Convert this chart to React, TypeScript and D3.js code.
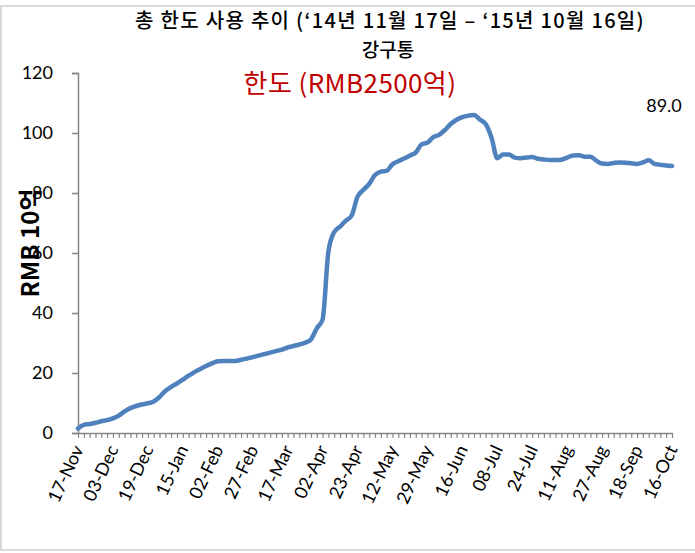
import React, { useEffect, useRef } from 'react';
import * as d3 from 'd3';

// every 12th trading day gets a label
const tickLabels = [
  "17-Nov", "03-Dec", "19-Dec", "15-Jan", "02-Feb", "27-Feb", "17-Mar", "02-Apr", "23-Apr",
  "12-May", "29-May", "16-Jun", "08-Jul", "24-Jul", "11-Aug", "27-Aug", "18-Sep", "16-Oct",
];

const usedQuota = [
  1.5, 2.7, 3.0, 3.4, 3.9, 4.3, 4.9, 5.8, 7.2, 8.3,
  9.0, 9.5, 9.9, 10.5, 12.0, 14.0, 15.4, 16.5, 17.8, 19.1,
  20.3, 21.3, 22.3, 23.2, 23.9, 24.0, 24.0, 24.0, 24.4, 24.8,
  25.3, 25.8, 26.3, 26.8, 27.3, 27.8, 28.5, 29.0, 29.5, 30.1,
  31.2, 34.9, 37.8, 60.5, 67.0, 68.8, 70.8, 72.5, 78.8, 81.0,
  83.0, 86.0, 87.1, 87.4, 89.6, 90.6, 91.5, 92.5, 93.5, 96.2,
  96.8, 98.6, 99.4, 101.0, 103.0, 104.4, 105.3, 105.8, 106.0, 104.5,
  103.0, 98.5, 91.6, 92.8, 92.8, 91.8, 91.6, 91.8, 92.0, 91.4,
  91.2, 91.0, 91.0, 91.1, 91.8, 92.5, 92.6, 92.1, 92.1, 90.8,
  89.8, 89.7, 90.0, 90.2, 90.1, 89.9, 89.7, 90.2, 90.9, 89.7,
  89.4, 89.2, 89.0,
];

const yTicks = [0, 20, 40, 60, 80, 100, 120];

const dayCount = 205;
const sampleStep = 2;
const labelStep = 12;

const App = () => {
  const ref = useRef(null);

  useEffect(() => {
    const svg = d3.select(ref.current);
    const width = 695;
    const height = 553;
    const marginLeft = 78;
    const marginRight = 23;
    const marginTop = 73;
    const marginBottom = 120;
    const numFont = "Lato, 'Open Sans', sans-serif";
    const krFont = "'Noto Sans CJK KR', 'Noto Sans', sans-serif";

    svg.selectAll("*").remove();

    // outer frame
    svg.append("rect")
      .attr("x", 1).attr("y", 6)
      .attr("width", width + 10).attr("height", 544)
      .attr("fill", "#fff")
      .attr("stroke", "#d9d9d9")
      .attr("stroke-width", 2);

    const x = d3.scaleLinear()
      .domain([0, dayCount - 1])
      .range([marginLeft, width - marginRight]);

    const y = d3.scaleLinear()
      .domain([0, 120])
      .range([height - marginBottom, marginTop]);

    // y axis
    svg.append("g")
      .attr("transform", `translate(${marginLeft},0)`)
      .call(d3.axisLeft(y).tickValues(yTicks).tickSize(6).tickPadding(19).tickSizeOuter(6))
      .call(g => g.select(".domain").attr("stroke", "#868686").attr("stroke-width", 1.5))
      .call(g => g.selectAll(".tick line").attr("stroke", "#868686").attr("stroke-width", 1.5))
      .call(g => g.selectAll(".tick text")
        .attr("font-family", numFont)
        .attr("font-size", 18)
        .attr("fill", "#000"));

    // x axis with a small tick every 2nd day
    svg.append("g")
      .attr("transform", `translate(0,${height - marginBottom})`)
      .call(d3.axisBottom(x)
        .tickValues(d3.range(0, dayCount, sampleStep))
        .tickFormat(() => "")
        .tickSize(5)
        .tickSizeOuter(0))
      .call(g => g.select(".domain").attr("stroke", "#868686").attr("stroke-width", 1.5))
      .call(g => g.selectAll(".tick line").attr("stroke", "#868686").attr("stroke-width", 1.2));

    svg.append("g")
      .selectAll("text")
      .data(tickLabels)
      .join("text")
        .attr("transform", (d, i) => `translate(${x(i * labelStep) + 6},${height - marginBottom + 16}) rotate(-65)`)
        .attr("text-anchor", "end")
        .attr("font-family", numFont)
        .attr("font-size", 18)
        .attr("fill", "#000")
        .text(d => d);

    const line = d3.line()
      .x((d, i) => x(i * sampleStep))
      .y(d => y(d))
      .curve(d3.curveMonotoneX);

    svg.append("path")
      .datum(usedQuota)
      .attr("fill", "none")
      .attr("stroke", "#4f81bd")
      .attr("stroke-width", 4.5)
      .attr("stroke-linejoin", "round")
      .attr("stroke-linecap", "round")
      .attr("d", line);

    // last value label
    const last = usedQuota[usedQuota.length - 1];
    svg.append("text")
      .attr("x", x((usedQuota.length - 1) * sampleStep) - 8)
      .attr("y", y(last) - 54)
      .attr("text-anchor", "middle")
      .attr("font-family", numFont)
      .attr("font-size", 18)
      .attr("fill", "#000")
      .text(last.toFixed(1));

    // titles
    svg.append("text")
      .attr("x", 390).attr("y", 28)
      .attr("text-anchor", "middle")
      .attr("font-family", krFont)
      .attr("font-size", 20)
      .attr("letter-spacing", 1.3)
      .attr("font-weight", 500)
      .attr("fill", "#000")
      .text("총 한도 사용 추이 (‘14년 11월 17일 – ‘15년 10월 16일)");

    svg.append("text")
      .attr("x", 388).attr("y", 57)
      .attr("text-anchor", "middle")
      .attr("font-family", krFont)
      .attr("font-size", 19)
      .attr("font-weight", 500)
      .attr("fill", "#000")
      .text("강구통");

    svg.append("text")
      .attr("x", 350).attr("y", 93)
      .attr("text-anchor", "middle")
      .attr("font-family", krFont)
      .attr("font-size", 26)
      .attr("letter-spacing", 0.4)
      .attr("fill", "#c00000")
      .text("한도 (RMB2500억)");

    svg.append("text")
      .attr("transform", "translate(39,243) rotate(-90)")
      .attr("text-anchor", "middle")
      .attr("font-family", krFont)
      .attr("font-size", 24)
      .attr("font-weight", "bold")
      .attr("fill", "#000")
      .text("RMB 10억");
  }, []);

  return (
    <svg ref={ref} width={695} height={553}
      style={{ position: "absolute", left: 0, top: 0, background: "#fff" }}></svg>
  );
};

export default App;
